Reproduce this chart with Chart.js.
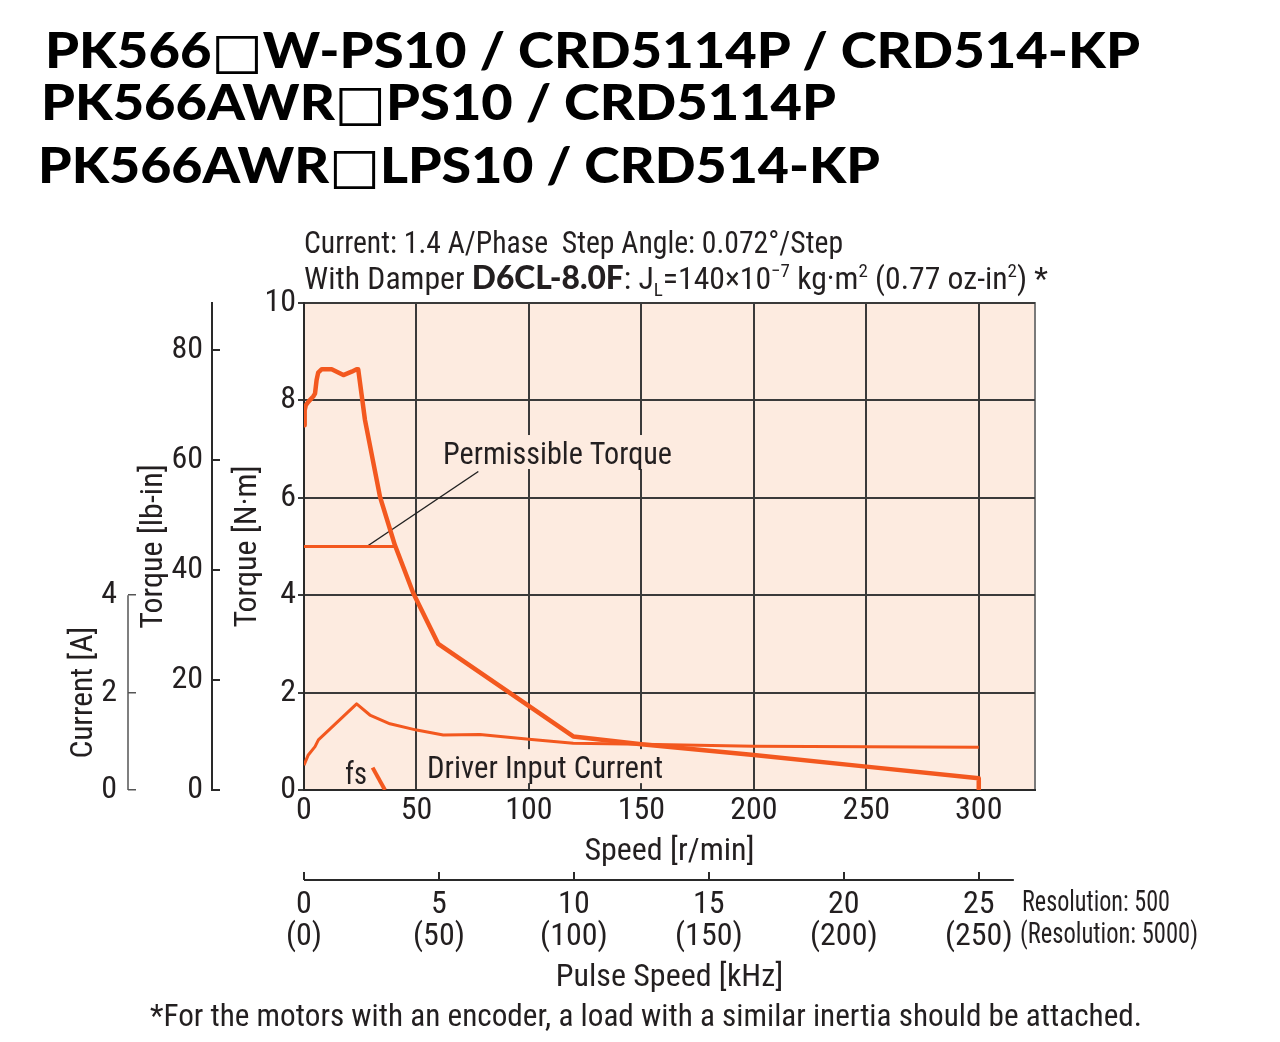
<!DOCTYPE html>
<html>
<head>
<meta charset="utf-8">
<script src="https://cdn.jsdelivr.net/npm/chart.js@4.4.1/dist/chart.umd.min.js"></script>
<style>
  html, body { margin: 0; padding: 0; background: #fff; }
  body { width: 1280px; height: 1042px; position: relative; overflow: hidden; }
  #chart { position: absolute; left: 0; top: 0; }
  .t { position: absolute; white-space: nowrap; transform-origin: 0 50%; color: #231f20; z-index: 2; }
  .head { font-family: Lato, "Open Sans", sans-serif; font-weight: 900; font-size: 50px; line-height: 50px; color: #000; }
  .sq { font-family: "DejaVu Sans", sans-serif; font-weight: 400; }
  .nar { font-family: "Roboto Condensed", "DejaVu Sans Condensed", sans-serif; font-size: 32px; line-height: 32px; }
  .nar b { font-family: Lato, "Open Sans", sans-serif; font-weight: 900; }
  .nar sup, .nar sub { font-size: 60%; line-height: 0; }
  .small { font-size: 29px; line-height: 29px; }
</style>
</head>
<body>
<canvas id="chart" width="1280" height="1042"></canvas>

<div class="t head" id="h1">PK566<span class="sq">□</span>W-PS10 / CRD5114P / CRD514-KP</div>
<div class="t head" id="h2">PK566AWR<span class="sq">□</span>PS10 / CRD5114P</div>
<div class="t head" id="h3">PK566AWR<span class="sq">□</span>LPS10 / CRD514-KP</div>
<div class="t nar" id="s1">Current: 1.4 A/Phase&nbsp;&nbsp;Step Angle: 0.072°/Step</div>
<div class="t nar" id="s2">With Damper <b>D6CL-8.0F</b>: J<sub>L</sub>=140×10<sup>−7</sup> kg·m<sup>2</sup> (0.77 oz-in<sup>2</sup>) *</div>
<div class="t nar small" id="r1">Resolution: 500</div>
<div class="t nar small" id="r2">(Resolution: 5000)</div>
<div class="t nar" id="foot">*For the motors with an encoder, a load with a similar inertia should be attached.</div>

<script>
// pull-out torque, N·m against speed r/min
const torqueSpeed = [0, 0.3, 0.8, 1.9, 4.1, 4.9, 5.6, 6.3, 7.9, 12.3, 17.5, 21.2, 23.4, 24.1, 27.1, 33.8, 40.4, 48.6, 59.7, 119.7, 150, 200, 250, 300, 300];
const torqueValues = [7.49, 7.8, 7.9, 7.97, 8.08, 8.14, 8.42, 8.57, 8.64, 8.64, 8.52, 8.59, 8.64, 8.64, 7.6, 6.02, 5.03, 4.04, 3.0, 1.1, 0.94, 0.72, 0.48, 0.24, 0];

// driver input current, A against speed r/min
const currentSpeed = [0, 1.9, 4.9, 6.4, 23.4, 29.3, 38.2, 50.1, 61.9, 78.2, 100, 119.7, 150, 200, 250, 300];
const currentValues = [0.51, 0.72, 0.89, 1.03, 1.77, 1.54, 1.36, 1.23, 1.13, 1.14, 1.04, 0.96, 0.94, 0.9, 0.89, 0.88];

// permissible torque and start-stop (fs) segment
const permSpeed = [0, 40.4];
const permValues = [5.0, 5.0];
const fsSpeed = [30.5, 36];
const fsValues = [0.46, 0];

// tick labels
const speedTicks = [0, 50, 100, 150, 200, 250, 300];
const torqueNmTicks = [0, 2, 4, 6, 8, 10];
const torqueLbTicks = [0, 20, 40, 60, 80];
const currentTicks = [0, 2, 4];
const pulseTicks = [0, 5, 10, 15, 20, 25];
const pulseTicksFine = [0, 50, 100, 150, 200, 250];

const NM_TO_LBIN = 8.851;
const RPM_PER_KHZ = 12;
const SPEED_MAX = 325;

const NARROW = '"Roboto Condensed", "DejaVu Sans Condensed", sans-serif';
const TXT = "#231f20";
const AXIS = "#2a2a2a";
const GRID = "#3a3a3a";
const ORANGE = "#f3581f";
const PLOT_BG = "#fdebe0";

// where the notes sit, in data units (left edge, middle of caps) and drawn width
const notes = [
  { text: "Permissible Torque", x: 61.8, y: 6.94, w: 229, patch: true },
  { text: "Driver Input Current", x: 54.7, y: 0.49, w: 236, patch: true },
  { text: "fs", x: 18.2, y: 0.35, w: 22, patch: false },
];
const leader = [[27.9, 5.0], [77.5, 6.54]];

function pts(xs, ys) {
  return xs.map((v, i) => ({ x: v, y: ys[i] }));
}

function setTicks(values) {
  return (scale) => { scale.ticks = values.map((v) => ({ value: v })); };
}

function drawNote(ctx, n, x, y) {
  ctx.font = "32px " + NARROW;
  const left = x.getPixelForValue(n.x);
  const mid = y.getPixelForValue(n.y);
  const w = ctx.measureText(n.text).width;
  if (n.patch) {
    ctx.fillStyle = PLOT_BG;
    ctx.fillRect(left - 5, mid - 17, n.w + 10, 34);
  }
  ctx.save();
  ctx.translate(left, mid + 11.5);
  ctx.scale(n.w / w, 1);
  ctx.fillStyle = TXT;
  ctx.textBaseline = "alphabetic";
  ctx.fillText(n.text, 0, 0);
  ctx.restore();
}

const decor = {
  id: "decor",
  beforeDraw(chart) {
    const { ctx, chartArea: a } = chart;
    ctx.save();
    ctx.fillStyle = PLOT_BG;
    ctx.fillRect(a.left, a.top, a.right - a.left, a.bottom - a.top);
    ctx.strokeStyle = "#7a7a7a";
    ctx.lineWidth = 2;
    ctx.beginPath();
    ctx.moveTo(a.left, a.top);
    ctx.lineTo(a.right, a.top);
    ctx.lineTo(a.right, a.bottom);
    ctx.stroke();
    ctx.restore();
  },
  beforeDatasetsDraw(chart) {
    const { ctx, scales: { x, y } } = chart;
    ctx.save();
    ctx.strokeStyle = "#222";
    ctx.lineWidth = 1.5;
    ctx.beginPath();
    ctx.moveTo(x.getPixelForValue(leader[0][0]), y.getPixelForValue(leader[0][1]));
    ctx.lineTo(x.getPixelForValue(leader[1][0]), y.getPixelForValue(leader[1][1]));
    ctx.stroke();
    notes.forEach((n) => drawNote(ctx, n, x, y));
    ctx.restore();
  },
  afterDraw(chart) {
    const { ctx, scales: { x2, yCur } } = chart;
    ctx.save();
    // current axis only runs 0..4 A
    ctx.strokeStyle = "#555";
    ctx.lineWidth = 1.5;
    ctx.beginPath();
    ctx.moveTo(yCur.right, yCur.getPixelForValue(0));
    ctx.lineTo(yCur.right, yCur.getPixelForValue(4));
    ctx.stroke();
    // pulse speed axis line
    ctx.strokeStyle = AXIS;
    ctx.lineWidth = 2;
    ctx.beginPath();
    ctx.moveTo(x2.getPixelForValue(0), x2.top);
    ctx.lineTo(x2.getPixelForValue(26.3), x2.top);
    ctx.stroke();
    // current axis title, centred on its 0..4 span
    ctx.font = "32px " + NARROW;
    const text = "Current [A]";
    const w = ctx.measureText(text).width;
    ctx.translate(80 + 11.5, yCur.getPixelForValue(2));
    ctx.rotate(-Math.PI / 2);
    ctx.scale(132 / w, 1);
    ctx.fillStyle = TXT;
    ctx.textAlign = "center";
    ctx.fillText(text, 0, 0);
    ctx.restore();
  },
};

Chart.defaults.font.family = NARROW;
Chart.defaults.font.size = 32;
Chart.defaults.color = TXT;

const tickFont = { family: NARROW, size: 32, lineHeight: 1 };
const titleFont = { family: NARROW, size: 32, lineHeight: 1.2 };

new Chart(document.getElementById("chart"), {
  type: "line",
  data: {
    datasets: [
      { label: "Pull-out Torque", data: pts(torqueSpeed, torqueValues), borderColor: ORANGE, borderWidth: 4.5 },
      { label: "Driver Input Current", data: pts(currentSpeed, currentValues), borderColor: ORANGE, borderWidth: 3 },
      { label: "Permissible Torque", data: pts(permSpeed, permValues), borderColor: ORANGE, borderWidth: 3 },
      { label: "fs", data: pts(fsSpeed, fsValues), borderColor: ORANGE, borderWidth: 4 },
    ],
  },
  options: {
    responsive: false,
    animation: false,
    devicePixelRatio: 1,
    layout: { padding: { top: 303, right: 245, left: 40, bottom: 30 } },
    elements: {
      point: { radius: 0 },
      line: { tension: 0, fill: false, borderJoinStyle: "round", borderCapStyle: "butt" },
    },
    plugins: { legend: { display: false }, tooltip: { enabled: false } },
    scales: {
      x: {
        type: "linear",
        position: "bottom",
        min: 0,
        max: SPEED_MAX,
        afterBuildTicks: setTicks(speedTicks),
        afterFit: (s) => { s.height = 90; },
        grid: { color: GRID, lineWidth: 2, drawTicks: false },
        border: { color: AXIS, width: 2 },
        ticks: { font: tickFont, padding: 5, maxRotation: 0, autoSkip: false },
        title: { display: true, text: "Speed [r/min]", font: titleFont, padding: { top: 0, bottom: 9 } },
      },
      x2: {
        type: "linear",
        position: "bottom",
        min: 0,
        max: SPEED_MAX / RPM_PER_KHZ,
        afterBuildTicks: setTicks(pulseTicks),
        afterFit: (s) => { s.height = 132; },
        grid: { drawOnChartArea: false, color: AXIS, lineWidth: 2, tickLength: -8 },
        border: { display: false },
        ticks: {
          font: tickFont,
          padding: 17,
          maxRotation: 0,
          autoSkip: false,
          callback: (v, i) => [String(pulseTicks[i]), "(" + pulseTicksFine[i] + ")"],
        },
        title: { display: true, text: "Pulse Speed [kHz]", font: titleFont, padding: { top: 0, bottom: 15 } },
      },
      y: {
        type: "linear",
        position: "left",
        min: 0,
        max: 10,
        afterBuildTicks: setTicks(torqueNmTicks),
        afterFit: (s) => { s.width = 92; },
        grid: { color: GRID, lineWidth: 2, tickLength: 6 },
        border: { color: AXIS, width: 2 },
        ticks: { font: tickFont, padding: 2 },
        title: { display: true, text: "Torque [N·m]", font: titleFont, padding: { top: 17, bottom: 0 } },
      },
      yLb: {
        type: "linear",
        position: "left",
        min: 0,
        max: 10 * NM_TO_LBIN,
        afterBuildTicks: setTicks(torqueLbTicks),
        afterFit: (s) => { s.width = 84; },
        grid: { drawOnChartArea: false, color: AXIS, lineWidth: 2, tickLength: -8 },
        border: { color: AXIS, width: 2 },
        ticks: { font: tickFont, padding: 17 },
        title: { display: true, text: "Torque [lb-in]", font: titleFont, padding: { top: 7, bottom: 0 } },
      },
      yCur: {
        type: "linear",
        position: "left",
        min: 0,
        max: 10,
        afterBuildTicks: setTicks(currentTicks),
        afterFit: (s) => { s.width = 88; },
        grid: { drawOnChartArea: false, color: "#555", lineWidth: 1.5, tickLength: -8 },
        border: { display: false },
        ticks: { font: tickFont, padding: 19 },
        title: { display: false },
      },
    },
  },
  plugins: [decor],
});

const blocks = [
  ["h1", 45, 50, 1095],
  ["h2", 41, 102, 795],
  ["h3", 38, 165, 842],
  ["s1", 304, 242, 539],
  ["s2", 304, 277, 744],
  ["r1", 1022, 901, 148],
  ["r2", 1020, 933, 178],
  ["foot", 150, 1015, 992],
];

function placeBlocks() {
  blocks.forEach(([id, left, mid, width]) => {
    const el = document.getElementById(id);
    const r = el.getBoundingClientRect();
    el.style.left = left + "px";
    el.style.top = (mid - r.height / 2) + "px";
    el.style.transform = "scaleX(" + (width / r.width).toFixed(4) + ")";
  });
}

document.fonts.ready.then(placeBlocks);
</script>
</body>
</html>
